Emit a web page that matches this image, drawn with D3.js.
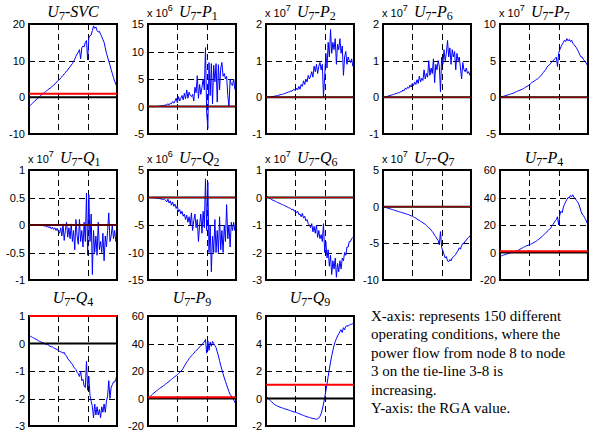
<!DOCTYPE html>
<html>
<head>
<meta charset="utf-8">
<script src="https://cdn.jsdelivr.net/npm/d3@7"></script>
<style>
  body { margin: 0; background: #fff; }
  .tick text { font-family: "Liberation Sans", Arial, sans-serif; font-size: 11px; fill: #000; }
</style>
</head>
<body>
<div id="chart"></div>
<script>
// RGA values, one value every 2nd operating condition (2..150)
var svc = [-2.3,-1.9,-1.6,-1.3,-1.0,-0.7,-0.4,-0.1,0.2,0.5,0.8,1.0,1.3,1.5,1.8,2.0,2.3,2.5,2.8,3.0,3.4,3.6,4.0,4.3,4.6,4.8,5.3,5.6,6.0,6.4,6.7,7.2,7.4,8.0,8.3,8.8,9.2,9.8,10.4,11.2,11.8,12.3,13.0,10.5,13.5,14.0,13.8,15.0,15.5,10.2,16.2,16.8,17.0,18.2,19.5,18.8,19.2,18.2,17.8,18.0,17.2,16.5,15.8,15.0,13.5,12.0,11.0,9.8,8.8,7.6,6.5,5.4,4.4,3.6,2.8];
var p1 = [0,0,0,0,0,0,0,0,0.05,0.05,0.1,0.1,0.15,0.2,0.3,0.3,0.5,0.3,0.6,0.5,0.9,0.6,1.0,1.5,0.7,1.8,1.0,1.5,2.0,1.2,2.4,1.4,3.0,1.5,2.6,2.0,1.8,2.2,1.0,3.5,2.5,5.6,1.5,4.0,2.2,3.5,5.0,3.0,10.7,-1.0,-4.0,8.0,2.0,7.8,0.5,7.5,4.5,7.8,0.8,7.6,3.0,7.0,8.0,5.5,6.0,5.0,5.5,2.0,0.0,5.0,4.0,3.8,5.0,3.2,2.8];
var p2 = [0,0,0.01,0.01,0.02,0.02,0.03,0.04,0.04,0.05,0.06,0.07,0.08,0.08,0.1,0.1,0.12,0.13,0.15,0.14,0.18,0.16,0.2,0.22,0.18,0.25,0.2,0.3,0.22,0.35,0.3,0.45,0.35,0.5,0.42,0.6,0.5,0.58,0.7,0.55,0.85,0.7,0.9,0.65,0.85,0.95,0.75,0.9,0.02,0.55,1.2,0.8,1.5,1.1,1.85,1.2,1.5,1.3,1.6,0.9,1.45,1.3,1.6,1.2,1.4,0.6,1.1,1.25,0.9,1.1,1.0,0.95,1.05,0.85,0.9];
var p6 = [0,0.01,0.02,0.03,0.04,0.05,0.06,0.07,0.08,0.09,0.1,0.11,0.13,0.12,0.16,0.15,0.2,0.18,0.25,0.22,0.28,0.25,0.33,0.28,0.38,0.32,0.42,0.35,0.48,0.38,0.58,0.42,0.52,0.46,0.75,0.5,0.65,0.55,1.0,0.6,0.8,0.65,1.05,0.4,0.9,0.75,1.0,0.85,0.15,1.1,0.9,1.3,1.0,1.2,1.55,1.1,1.35,0.9,1.3,1.1,1.25,0.75,1.2,1.0,1.1,0.8,0.5,0.95,0.75,0.7,0.8,0.65,0.7,0.6,0.58];
var p7 = [0.05,0.1,0.15,0.2,0.25,0.3,0.35,0.4,0.45,0.5,0.55,0.62,0.7,0.78,0.85,0.9,0.97,1.05,1.1,1.2,1.3,1.4,1.5,1.6,1.7,1.85,2.0,2.1,2.2,2.3,2.45,2.5,2.65,2.8,3.0,3.2,3.4,3.6,3.8,4.1,4.3,4.4,4.6,4.8,5.0,5.1,5.3,5.5,4.2,6.0,6.5,6.9,7.2,7.5,7.8,7.6,8.0,7.7,7.9,7.6,7.8,7.4,7.2,7.0,6.8,6.5,6.2,5.8,5.5,5.5,5.2,5.0,4.8,4.5,4.2];
var q1 = [0,0,0,0,0,0,0,0,0,0,0,-0.01,-0.02,-0.01,-0.04,-0.02,-0.05,-0.03,-0.07,-0.04,-0.08,-0.05,-0.1,-0.06,-0.12,-0.15,-0.05,-0.2,0.02,-0.28,-0.1,0.05,-0.22,-0.05,-0.25,0.02,-0.3,-0.1,-0.45,0.1,-0.2,-0.35,0.1,-0.3,-0.1,-0.4,0.05,-0.3,0.58,-0.55,0.55,-0.3,0.2,-0.9,-0.1,-0.5,-0.2,-0.55,0.05,-0.45,-0.3,-0.5,-0.15,-0.65,-0.2,-0.4,-0.1,0.22,-0.3,-0.2,0.0,-0.25,-0.1,-0.3,-0.1];
var q2 = [0,0,-0.02,-0.03,-0.05,-0.07,-0.1,-0.12,-0.15,-0.2,-0.25,-0.3,-0.35,-0.3,-0.5,-0.8,-0.3,-1.0,-0.6,-1.4,-0.8,-1.6,-1.2,-2.0,-1.5,-2.6,-2.2,-3.0,-2.5,-3.4,-3.0,-4.0,-3.2,-4.5,-3.5,-5.0,-2.8,-6.0,-4.2,-3.0,-5.5,-4.0,-8.0,-5.0,-3.0,-6.5,-2.5,-5.5,3.4,-6.0,2.8,-10.0,-5.0,-13.5,-7.0,-10.0,-4.0,-10.0,-6.0,-10.0,-3.5,-9.5,-6.0,-10.0,-5.0,-8.0,-1.3,-7.5,-5.0,-9.0,-4.5,-6.0,-4.5,-6.0,-3.8];
var q6 = [0.03,0.0,-0.03,-0.05,-0.08,-0.1,-0.12,-0.14,-0.16,-0.18,-0.2,-0.22,-0.24,-0.26,-0.28,-0.3,-0.32,-0.34,-0.37,-0.38,-0.4,-0.45,-0.42,-0.5,-0.48,-0.55,-0.5,-0.62,-0.6,-0.7,-0.58,-0.75,-0.68,-0.85,-0.8,-0.95,-1.0,-1.1,-0.95,-1.25,-1.05,-1.3,-1.0,-1.45,-1.2,-1.5,-1.35,-1.6,-0.95,-2.0,-1.6,-2.2,-1.9,-2.5,-2.1,-2.8,-2.3,-2.6,-2.2,-2.9,-2.4,-2.7,-2.3,-2.6,-2.2,-2.3,-2.0,-2.1,-1.8,-1.8,-1.6,-1.6,-1.5,-1.45,-1.4];
var q7 = [-0.05,-0.1,-0.15,-0.2,-0.25,-0.3,-0.35,-0.4,-0.45,-0.5,-0.55,-0.6,-0.65,-0.7,-0.75,-0.8,-0.85,-0.9,-0.95,-1.0,-1.05,-1.1,-1.2,-1.25,-1.3,-1.4,-1.5,-1.55,-1.7,-1.8,-1.85,-2.0,-2.1,-2.2,-2.3,-2.4,-2.55,-2.7,-2.9,-3.0,-3.2,-3.4,-3.6,-3.9,-4.1,-4.4,-4.6,-5.2,-3.4,-5.6,-6.0,-6.5,-7.0,-6.8,-7.4,-7.5,-7.2,-7.4,-7.0,-6.8,-6.7,-6.5,-6.2,-6.0,-5.6,-5.8,-5.3,-5.0,-5.0,-4.7,-4.6,-4.3,-4.2,-4.0,-3.8];
var p4 = [-2.5,-2.2,-1.9,-1.6,-1.3,-1.0,-0.8,-0.5,-0.2,0.0,0.3,0.5,0.8,1.0,1.4,1.8,2.3,2.8,3.3,3.8,4.2,4.6,5.0,5.3,5.6,6.0,6.4,6.8,7.3,7.8,8.3,9.0,9.6,10.3,11.0,11.8,12.6,13.4,14.2,15.0,16.0,17.0,17.5,19.0,20.2,21.5,23.0,24.0,26.0,20.0,27.5,30.0,29.0,33.0,35.0,37.0,38.5,40.0,39.5,41.5,40.5,42.0,40.0,39.5,38.0,37.0,35.5,33.0,30.0,28.0,27.0,25.5,24.0,22.0,20.0];
var q4 = [0.27,0.25,0.22,0.2,0.18,0.15,0.13,0.1,0.08,0.06,0.04,0.02,0.0,-0.02,-0.04,-0.02,-0.08,-0.1,-0.12,-0.12,-0.16,-0.18,-0.2,-0.22,-0.25,-0.28,-0.3,-0.32,-0.35,-0.32,-0.42,-0.45,-0.55,-0.6,-0.65,-0.72,-0.75,-0.85,-0.9,-0.95,-1.05,-1.1,-1.2,-1.0,-1.35,-1.3,-1.55,-1.6,-0.65,-1.7,-1.2,-1.9,-2.1,-2.3,-2.7,-2.2,-2.6,-2.3,-2.6,-2.4,-2.7,-2.3,-2.5,-2.2,-2.5,-2.1,-1.9,-1.35,-2.0,-1.6,-1.5,-1.4,-1.4,-1.3,-1.15];
var p9 = [0.0,1.5,2.5,3.3,4.0,4.7,5.4,6.0,6.7,7.3,8.0,8.6,9.2,9.8,10.5,11.1,11.8,12.5,13.2,13.9,14.6,15.3,16.0,16.6,17.3,18.0,19.0,19.8,20.8,22.0,23.5,25.0,26.5,27.5,29.0,30.0,31.0,32.0,32.8,34.0,35.0,35.5,36.5,37.5,38.5,39.0,40.5,41.0,43.0,33.0,42.0,35.0,41.0,38.0,41.5,40.0,38.5,37.0,34.0,31.0,27.5,24.0,21.0,18.0,15.0,12.5,10.0,7.5,5.0,3.0,1.8,0.5,-1.0,-2.5,-4.5];
var q9 = [0.1,0.0,-0.1,-0.18,-0.26,-0.34,-0.42,-0.47,-0.52,-0.56,-0.6,-0.63,-0.66,-0.69,-0.72,-0.75,-0.78,-0.8,-0.83,-0.86,-0.89,-0.92,-0.95,-0.98,-1.0,-1.03,-1.06,-1.1,-1.13,-1.17,-1.2,-1.24,-1.27,-1.3,-1.33,-1.36,-1.38,-1.4,-1.43,-1.45,-1.47,-1.49,-1.5,-1.48,-1.42,-1.3,-1.1,-0.8,-0.4,0.05,0.55,1.05,1.6,2.15,2.65,3.1,3.5,3.85,4.15,4.35,4.55,4.7,4.85,5.0,4.8,5.15,5.0,5.25,5.3,5.25,5.35,5.4,5.4,5.45,5.45];

// panel titles, axis ranges and ticks
var titleNames = ["SVC","P","P","P","P","Q","Q","Q","Q","P","Q","P","Q"];
var titleIdx   = ["","1","2","6","7","1","2","6","7","4","4","9","9"];
var exponents  = [0,6,7,7,7,7,6,7,7,0,0,0,0];
var yTicks = [
  [-10,0,10,20], [-5,0,5,10,15], [-1,0,1,2], [-1,0,1,2], [-5,0,5,10],
  [-1,-0.5,0,0.5,1], [-15,-10,-5,0,5], [-3,-2,-1,0,1], [-10,-5,0,5], [-20,0,20,40,60],
  [-3,-2,-1,0,1], [-20,0,20,40,60], [-2,0,2,4,6]
];
var series = [svc,p1,p2,p6,p7,q1,q2,q6,q7,p4,q4,p9,q9];
var conditions = d3.range(2, 151, 2);

var noteLines = [
  "X-axis: represents 150 different",
  "operating conditions, where the",
  "power flow from node 8 to node",
  "3 on the tie-line 3-8 is",
  "increasing.",
  "Y-axis: the RGA value."
];

var svgWidth = 594, svgHeight = 434;
var colLeft = [29, 148, 266, 383, 500];
var rowTop = [24, 170, 316];
var pw = 88, ph = 110;

var svg = d3.select("#chart").append("svg")
  .attr("width", svgWidth)
  .attr("height", svgHeight);

var xScale = d3.scaleLinear().domain([0, 150]).range([0, pw]);

series.forEach(function(data, k) {
  var row = Math.floor(k / 5), col = k % 5;
  var ticks = yTicks[k];
  var exp = exponents[k];
  var g = svg.append("g")
    .attr("transform", `translate(${colLeft[col]}, ${rowTop[row]})`);

  var y = d3.scaleLinear()
    .domain([ticks[0], ticks[ticks.length - 1]])
    .range([ph, 0]);

  g.append("clipPath").attr("id", "clip" + k)
    .append("rect").attr("width", pw).attr("height", ph);

  // dashed grid
  g.selectAll(".vgrid").data([50, 100]).enter().append("line")
    .attr("x1", d => Math.round(xScale(d)) + 0.5).attr("x2", d => Math.round(xScale(d)) + 0.5)
    .attr("y1", 0).attr("y2", ph)
    .attr("stroke", "#000").attr("stroke-width", 1)
    .attr("stroke-dasharray", "6,4");
  g.selectAll(".hgrid").data(ticks.slice(1, -1).filter(d => d !== 0)).enter().append("line")
    .attr("x1", 0).attr("x2", pw)
    .attr("y1", d => Math.round(y(d)) + 0.5).attr("y2", d => Math.round(y(d)) + 0.5)
    .attr("stroke", "#000").attr("stroke-width", 1)
    .attr("stroke-dasharray", "6,4");

  // the RGA curve
  var line = d3.line()
    .x((d, i) => xScale(conditions[i]))
    .y(d => y(d));
  g.append("path")
    .datum(data)
    .attr("clip-path", `url(#clip${k})`)
    .attr("d", line)
    .attr("fill", "none")
    .attr("stroke", "#0000ff")
    .attr("stroke-width", 1);

  // frame
  g.append("rect")
    .attr("width", pw).attr("height", ph)
    .attr("fill", "none").attr("stroke", "#000").attr("stroke-width", 2);

  // zero line and the RGA = 1 line (drawn over the frame, Q4 has it on the top edge)
  var one = 1 / Math.pow(10, exp);
  g.append("line")
    .attr("x1", 0).attr("x2", pw)
    .attr("y1", y(0)).attr("y2", y(0))
    .attr("stroke", "#000").attr("stroke-width", 2);
  g.append("line")
    .attr("x1", 0).attr("x2", pw)
    .attr("y1", y(one)).attr("y2", y(one))
    .attr("stroke", "#ff0000").attr("stroke-width", exp ? 0.7 : 2);

  // y axis labels
  g.append("g")
    .call(d3.axisLeft(y).tickValues(ticks).tickSize(0).tickPadding(4).tickFormat(d => String(d)))
    .call(a => a.select(".domain").remove());

  // title
  var ty = row === 2 ? -13 : -7;
  var title = g.append("text")
    .attr("y", ty)
    .attr("font-family", "Liberation Serif, Times New Roman, serif")
    .attr("font-size", 16)
    .attr("font-style", "italic");
  if (exp) {
    title.attr("x", 31).attr("text-anchor", "start");
    var ex = g.append("text")
      .attr("x", -1).attr("y", ty)
      .attr("font-family", "Liberation Sans, Arial, sans-serif")
      .attr("font-size", 11);
    ex.append("tspan").text("x 10");
    ex.append("tspan").attr("dy", -6).attr("font-size", 9).text(exp);
  } else {
    title.attr("x", pw / 2).attr("text-anchor", "middle");
  }
  title.append("tspan").text("U");
  title.append("tspan").attr("dy", 3).attr("font-size", 12).attr("font-style", "normal").text("7");
  title.append("tspan").attr("dy", -3).text("-" + titleNames[k]);
  if (titleIdx[k]) {
    title.append("tspan").attr("dy", 3).attr("font-size", 12).attr("font-style", "normal").text(titleIdx[k]);
  }
});

// note text
svg.append("g")
  .selectAll("text")
  .data(noteLines)
  .enter()
  .append("text")
  .attr("x", 371)
  .attr("y", (d, i) => 321 + i * 18.4)
  .attr("font-family", "Liberation Serif, Times New Roman, serif")
  .attr("font-size", 15)
  .text(d => d);
</script>
</body>
</html>
